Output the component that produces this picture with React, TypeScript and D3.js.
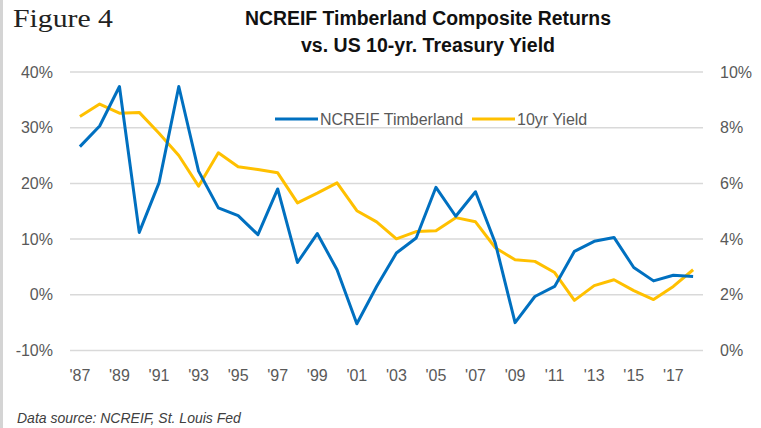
import React from "react";
import * as d3 from "d3";

// values
const years = [
  1987, 1988, 1989, 1990, 1991, 1992, 1993, 1994, 1995, 1996, 1997, 1998, 1999, 2000, 2001, 2002,
  2003, 2004, 2005, 2006, 2007, 2008, 2009, 2010, 2011, 2012, 2013, 2014, 2015, 2016, 2017, 2018,
];
const timberland = [
  26.6, 30.3, 37.4, 11.2, 20.1, 37.4, 22.2, 15.6, 14.2, 10.8, 19.0, 5.8, 11.0, 4.5, -5.2, 1.5,
  7.5, 10.2, 19.3, 14.1, 18.5, 9.3, -5.0, -0.3, 1.5, 7.8, 9.6, 10.3, 4.9, 2.5, 3.5, 3.3,
];
const tenYrYield = [
  8.4, 8.85, 8.52, 8.55, 7.8, 7.0, 5.9, 7.1, 6.6, 6.5, 6.38, 5.3, 5.65, 6.02, 5.02, 4.62,
  4.01, 4.27, 4.3, 4.77, 4.62, 3.69, 3.26, 3.2, 2.8, 1.8, 2.33, 2.54, 2.15, 1.83, 2.3, 2.9,
];
const leftTicks = [-10, 0, 10, 20, 30, 40];
const rightTicks = [0, 2, 4, 6, 8, 10];
const xTickYears = years.filter((y) => y % 2 === 1);

const W = 761, H = 428;
const narrow = "'Liberation Sans Narrow', 'Arial Narrow', 'Liberation Sans', Arial, sans-serif";

export default function App() {
  const x = d3.scaleBand<number>().domain(years).range([70, 703]);
  const cx = (yr: number) => (x(yr) as number) + x.bandwidth() / 2;
  const yL = d3.scaleLinear().domain([-10, 40]).range([350.5, 72]);
  const yR = d3.scaleLinear().domain([0, 10]).range([350.5, 72]);

  const lineL = d3.line<number>().x((_, i) => cx(years[i])).y((d) => yL(d));
  const lineR = d3.line<number>().x((_, i) => cx(years[i])).y((d) => yR(d));

  return (
    <svg width={W} height={H} style={{ position: "absolute", left: 0, top: 0, background: "#fff" }}>
      <rect x={0} y={0} width={W} height={H} fill="#fff" />
      <line x1={1.5} x2={1.5} y1={0} y2={H} stroke="#d4d4d4" strokeWidth={3} />

      <text x={13} y={27} fontFamily="'Liberation Serif', 'Times New Roman', serif" fontSize={26}
        textLength={100} lengthAdjust="spacingAndGlyphs" fill="#222">
        Figure 4
      </text>
      <text x={428} y={25} textAnchor="middle" fontFamily={narrow} fontWeight="bold" fontSize={20}
        textLength={366} lengthAdjust="spacingAndGlyphs" fill="#111">
        NCREIF Timberland Composite Returns
      </text>
      <text x={428} y={52} textAnchor="middle" fontFamily={narrow} fontWeight="bold" fontSize={20}
        textLength={254} lengthAdjust="spacingAndGlyphs" fill="#111">
        vs. US 10-yr. Treasury Yield
      </text>

      {/* gridlines */}
      {leftTicks.map((t) => (
        <line key={t} x1={70} x2={703} y1={yL(t)} y2={yL(t)} stroke="#d9d9d9" strokeWidth={1.5} />
      ))}

      {/* left axis */}
      {leftTicks.map((t) => (
        <text key={t} x={53} y={yL(t)} dy="0.35em" textAnchor="end" fontFamily={narrow} fontSize={16} fill="#595959">
          {t}%
        </text>
      ))}
      {/* right axis */}
      {rightTicks.map((t) => (
        <text key={t} x={720} y={yR(t)} dy="0.35em" textAnchor="start" fontFamily={narrow} fontSize={16} fill="#595959">
          {t}%
        </text>
      ))}
      {/* x axis */}
      {xTickYears.map((yr) => (
        <text key={yr} x={cx(yr)} y={381} textAnchor="middle" fontFamily={narrow} fontSize={16} fill="#595959">
          '{String(yr).slice(2)}
        </text>
      ))}

      <path d={lineR(tenYrYield) || ""} fill="none" stroke="#FFC000" strokeWidth={3} strokeLinejoin="round" />
      <path d={lineL(timberland) || ""} fill="none" stroke="#0070C0" strokeWidth={3} strokeLinejoin="round" />

      {/* legend */}
      <line x1={275} x2={318} y1={119} y2={119} stroke="#0070C0" strokeWidth={3} />
      <text x={320} y={119} dy="0.35em" fontFamily={narrow} fontSize={16} fill="#595959">
        NCREIF Timberland
      </text>
      <line x1={472} x2={515} y1={119} y2={119} stroke="#FFC000" strokeWidth={3} />
      <text x={517} y={119} dy="0.35em" fontFamily={narrow} fontSize={16} fill="#595959">
        10yr Yield
      </text>

      <text x={17} y={423} fontFamily={narrow} fontStyle="italic" fontSize={14} fill="#404040">
        Data source: NCREIF, St. Louis Fed
      </text>
    </svg>
  );
}
